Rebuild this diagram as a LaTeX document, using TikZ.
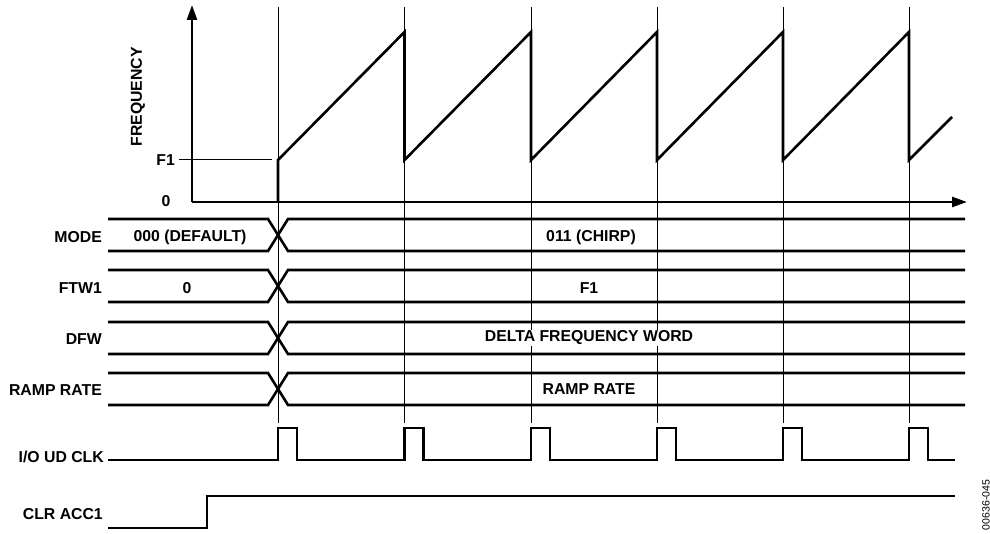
\documentclass[tikz,border=0pt]{standalone}
\usepackage{fontspec}
\setmainfont{Liberation Sans}
\usetikzlibrary{arrows.meta,positioning}
\tikzset {
  >={Triangle[length=15pt,width=10pt]},
  every node/.style={font=\fontsize{15.8}{18}\selectfont\bfseries, inner sep=1pt},
  sig/.style={line width=2.6pt},
  guide/.style={line width=1pt},
  lbl/.style={anchor=east},
}

\begin{document}
\begin{tikzpicture}[x=1pt,y=-1pt]
  \useasboundingbox (0,0) rectangle (990,534);
  % reference lines at each update clock
  \foreach \x in {278,404.5,531,657,783,909}
    \draw[guide] (\x,7) -- (\x,423);
  % frequency plot
  \draw[sig,->] (192,202) -- (192,5);
  \draw[sig,->] (192,202) -- (967,202);
  \draw[guide] (179,160) -- (272,160);
  \node[lbl] (f1) at (176,160) {F1};
  \node (zero) at (166,201) {0};
  \node[rotate=90] (freq) at (138,97) {FREQUENCY};
  \draw[sig] (278,202) -- (278,160) -- (404.5,32) -- (404.5,160) -- (531,32)
    -- (531,160) -- (657,32) -- (657,160) -- (783,32) -- (783,160)
    -- (909,32) -- (909,160) -- (952,117);
  % register buses
  \foreach \t in {219,270,322,373} {
    \draw[sig] (108,\t) -- (268,\t) -- (288,{\t+32}) -- (965,{\t+32});
    \draw[sig] (108,{\t+32}) -- (268,{\t+32}) -- (288,\t) -- (965,\t);
  }
  \node[lbl] (mode) at (103,237) {MODE};
  \node[lbl] (ftw) at (103,288) {FTW1};
  \node[lbl] (dfw) at (103,339) {DFW};
  \node[lbl] (ramp) at (103,390) {RAMP RATE};
  \node (modeold) at (190,237) {000 (DEFAULT)};
  \node (modenew) at (591,237) {011 (CHIRP)};
  \node (ftwold) at (187,288) {0};
  \node (ftwnew) at (589,288) {F1};
  \node[fill=white] (dfwval) at (589,338) {DELTA FREQUENCY WORD};
  \node (rampval) at (589,389) {RAMP RATE};
  % I/O update clock
  \node[lbl] (ioud) at (105,457) {I/O UD CLK};
  \draw[sig] (108,460) foreach \x in {278,404.5,531,657,783,909} {
      -- (\x,460) -- (\x,428) -- ({\x+19},428) -- ({\x+19},460)
    } -- (955,460);
  % clear accumulator
  \node[lbl] (clr) at (104,514) {CLR ACC1};
  \draw[sig] (108,528) -- (207,528) -- (207,496) -- (955,496);
  \node[rotate=90,font=\fontsize{10.5}{12}\selectfont] (fig) at (986,505) {00636-045};
\end{tikzpicture}
\end{document}
